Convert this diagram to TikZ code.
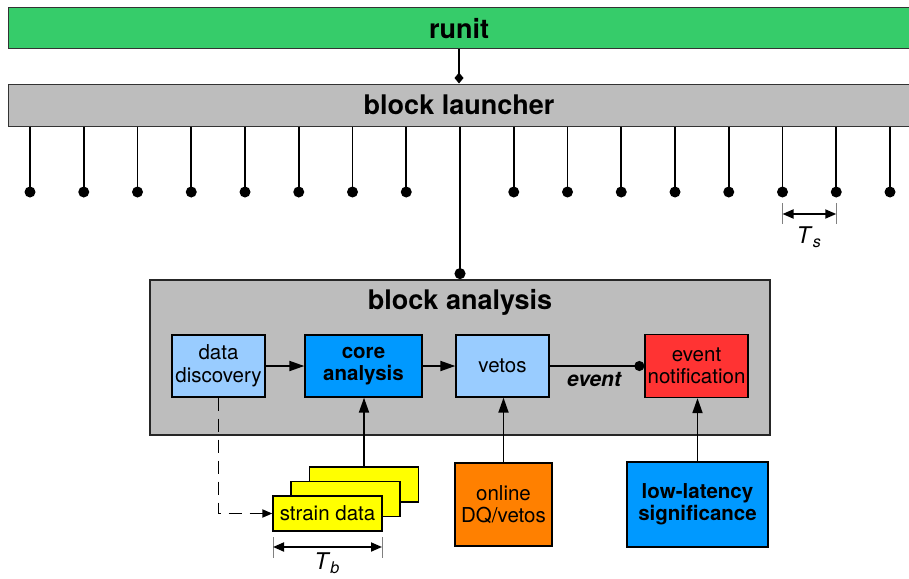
\documentclass[tikz,border=0pt]{standalone}
\usepackage{fontspec}
\setmainfont{TeX Gyre Heros}
\usetikzlibrary{arrows.meta}
\definecolor{rgreen}{HTML}{36CC6A}
\definecolor{rgray}{HTML}{BDBDBD}
\definecolor{lblue}{HTML}{99CCFF}
\definecolor{dblue}{HTML}{0099FF}
\definecolor{rred}{HTML}{FF3333}
\definecolor{rorange}{HTML}{FF8000}
\definecolor{ryellow}{HTML}{FFFF00}
\begin{document}
\begin{tikzpicture}[x=1pt,y=-1pt,
  box/.style={draw=black, line width=1.3pt, inner sep=0pt, align=center, font=\fontsize{20.5}{22.5}\selectfont},
  bar/.style={draw=black!80, line width=1pt, inner sep=0pt, font=\fontsize{27}{30}\selectfont\bfseries},
  conn/.style={line width=1.8pt, -{Triangle[length=15pt,width=10pt]}},
  pin/.style={line width=1.6pt},
  dimarrow/.style={line width=1.8pt, {Triangle[length=11pt,width=9pt]}-{Triangle[length=11pt,width=9pt]}},
  tickline/.style={gray, line width=1pt},
  dashconn/.style={line width=1.8pt, dash pattern=on 13pt off 8pt, -{Triangle[length=10pt,width=8pt]}}]
\useasboundingbox (0,0) rectangle (909,578);

% bars
\node[bar, fill=rgreen, minimum width=902, minimum height=41] (runit) at (459,28.5) {runit};
\node[bar, fill=rgray, minimum width=902, minimum height=42] (launcher) at (459,105) {block launcher};
\draw[pin, -{Diamond[length=11pt,width=9pt]}] (runit.south) -- (launcher.north);

% pins
\foreach \i in {0,...,16}{
  \ifnum\i=8\relax\else
    \coordinate (pin\i) at (30+\i*53.75,192);
    \draw[pin] (pin\i |- launcher.south) -- (pin\i);
    \fill (pin\i) circle[radius=5.5];
  \fi
}

% Ts dimension
\coordinate (tsA) at (782.5,214);
\coordinate (tsB) at (836.25,214);
\draw[tickline] (782.5,203) -- (782.5,224);
\draw[tickline] (836.25,203) -- (836.25,224);
\draw[dimarrow] (tsA) -- (tsB);
\node[font=\fontsize{23}{25}\selectfont] (tslab) at (809,237) {\textit{T}\textsubscript{\textit{s}}};

% block analysis
\node[draw=black!85, line width=1.8pt, fill=rgray, minimum width=620, minimum height=155, inner sep=0pt] (ba) at (460,357.5) {};
\draw[pin, -{Circle[length=11pt]}] (ba.north |- launcher.south) -- (ba.north);
\node[font=\fontsize{27}{30}\selectfont\bfseries] (batitle) at (460,302) {block analysis};

\node[box, fill=lblue, minimum width=93, minimum height=62] (dd) at (218.5,366) {data\\discovery};
\node[box, fill=dblue, minimum width=117, minimum height=62, font=\fontsize{20.5}{22.5}\selectfont\bfseries] (core) at (363.5,366) {core\\analysis};
\node[box, fill=lblue, minimum width=93, minimum height=62] (vetos) at (502.5,366) {vetos};
\node[box, fill=rred, minimum width=103, minimum height=63] (evn) at (696.5,366) {event\\notification};

\draw[conn] (dd.east) -- (core.west);
\draw[conn] (core.east) -- (vetos.west);
\draw[line width=1.8pt, -{Circle[length=10pt]}] (vetos.east) -- (evn.west);
\node[font=\fontsize{21}{23}\selectfont\bfseries\itshape] (evlab) at (594,380) {event};

% inputs
\node[box, fill=ryellow, minimum width=109, minimum height=35] (sback) at (364,484.5) {};
\node[box, fill=ryellow, minimum width=109, minimum height=35] (smid) at (345.5,499) {};
\node[box, fill=ryellow, minimum width=109, minimum height=35] (sfront) at (327.5,513.5) {strain data};
\node[box, fill=rorange, minimum width=97, minimum height=83] (online) at (503.5,504.5) {online\\DQ/vetos};
\node[box, fill=dblue, minimum width=141, minimum height=85, font=\fontsize{20.5}{22.5}\selectfont\bfseries] (lowlat) at (697.5,504.5) {low-latency\\significance};

\draw[conn] (sback.north) -- (sback.north |- core.south);
\draw[conn] (online.north) -- (online.north |- vetos.south);
\draw[conn] (lowlat.north) -- (lowlat.north |- evn.south);
\draw[dashconn] (dd.south) -- (dd.south |- sfront.west) -- (sfront.west);

% Tb dimension
\coordinate (tbA) at (273,547);
\coordinate (tbB) at (382,547);
\draw[tickline] (273,537) -- (273,558);
\draw[tickline] (382,537) -- (382,558);
\draw[dimarrow] (tbA) -- (tbB);
\node[font=\fontsize{23}{25}\selectfont, inner sep=1pt] (tblab) at (327,563) {\textit{T}\textsubscript{\textit{b}}};
\end{tikzpicture}
\end{document}
